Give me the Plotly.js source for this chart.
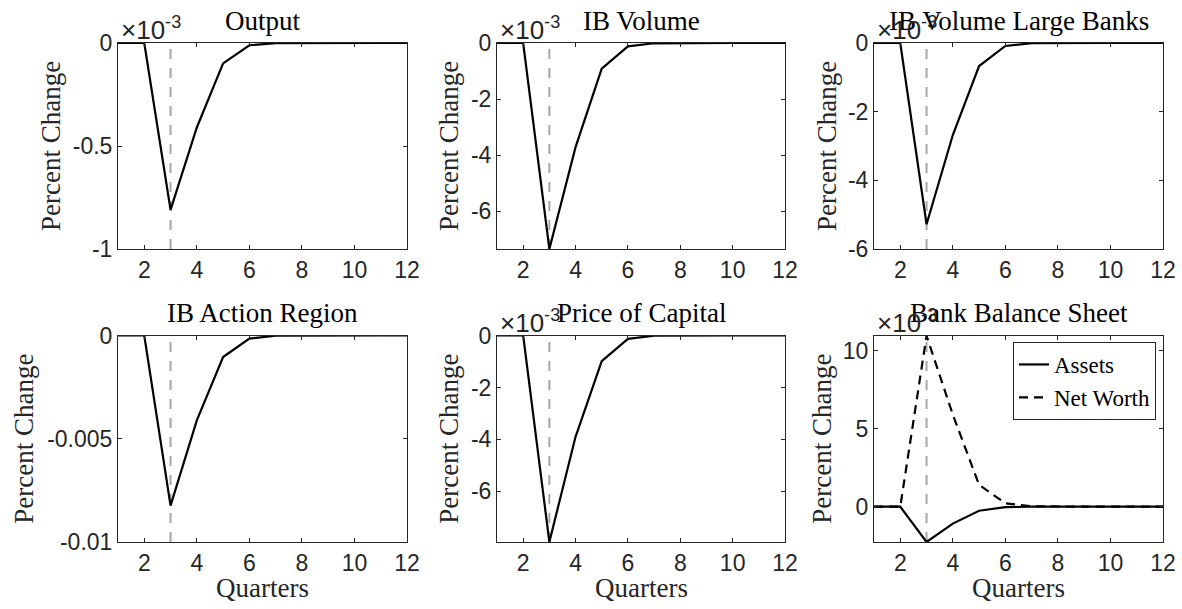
<!DOCTYPE html>
<html>
<head>
<meta charset="utf-8">
<script src="https://cdn.plot.ly/plotly-3.0.1.min.js"></script>
<style>html,body{margin:0;padding:0;background:#fff;}#chart{width:1182px;height:609px;}</style>
</head>
<body>
<div id="chart"></div>
<script>
// ---- data ----
const quarters = [1, 2, 3, 4, 5, 6, 7, 8, 9, 10, 11, 12];
const shockQuarter = 3;
const outputIRF    = [0, 0, -0.00081, -0.00041, -0.000099, -0.000011, -0.000001, 0, 0, 0, 0, 0];
const ibVolume     = [0, 0, -0.00734, -0.00371, -0.00091, -0.00012, -0.00001, 0, 0, 0, 0, 0];
const ibVolumeLarge= [0, 0, -0.00528, -0.00268, -0.00067, -0.000087, -0.000008, 0, 0, 0, 0, 0];
const actionRegion = [0, 0, -0.00824, -0.00411, -0.00104, -0.00015, -0.00001, 0, 0, 0, 0, 0];
const priceCapital = [0, 0, -0.00795, -0.0039, -0.00099, -0.00013, -0.00001, 0, 0, 0, 0, 0];
const bankAssets   = [0, 0, -0.00226, -0.00108, -0.00026, -0.00003, 0, 0, 0, 0, 0, 0];
const bankNetWorth = [0, 0, 0.01095, 0.0059, 0.0014, 0.00022, 0.00003, 0, 0, 0, 0, 0];

const panelTitles = ["Output", "IB Volume", "IB Volume Large Banks", "IB Action Region", "Price of Capital", "Bank Balance Sheet"];
const xTickVals = [2, 4, 6, 8, 10, 12];
const yTickLabels = [
  ["-1", "-0.5", "0"],
  ["-6", "-4", "-2", "0"],
  ["-6", "-4", "-2", "0"],
  ["-0.01", "-0.005", "0"],
  ["-6", "-4", "-2", "0"],
  ["0", "5", "10"]
];
const yScale = [1e-3, 1e-3, 1e-3, 1, 1e-3, 1e-3];
const legendNames = ["Assets", "Net Worth"];
const yLabel = "Percent Change";
const xLabel = "Quarters";

// ---- layout geometry ----
const W = 1182, H = 609;
const px = v => v / W;
const py = v => 1 - v / H;
const cols = [[118, 407], [497, 785], [874, 1163]];
const rows = [[43, 249], [335.5, 542]];
const yRanges = [[-0.001, 0], [-0.00734, 0], [-0.006, 0], [-0.01, 0], [-0.00795, 0], [-0.00226, 0.01097]];
const yLabelX = [51, 449, 827, 24, 449, 822];

const serif = "Liberation Serif, Times New Roman, serif";
const sans = "Liberation Sans, Arial, Helvetica, sans-serif";
const axColor = "#262626";

const series = [
  [outputIRF], [ibVolume], [ibVolumeLarge], [actionRegion], [priceCapital], [bankAssets, bankNetWorth]
];

const traces = [];
const layout = {
  width: W, height: H,
  margin: {l: 0, r: 0, t: 0, b: 0},
  paper_bgcolor: "#fff", plot_bgcolor: "#fff",
  showlegend: true,
  legend: {
    x: px(1156), y: py(342), xanchor: "right", yanchor: "top",
    bgcolor: "#fff", bordercolor: axColor, borderwidth: 1,
    font: {family: serif, size: 23, color: "#000"},
    tracegroupgap: 0, itemwidth: 30
  },
  annotations: [], shapes: []
};

for (let i = 0; i < 6; i++) {
  const r = Math.floor(i / 3), c = i % 3;
  const sfx = i === 0 ? "" : String(i + 1);
  const xa = "xaxis" + sfx, ya = "yaxis" + sfx;
  const xr = "x" + sfx, yr = "y" + sfx;
  const labels = yTickLabels[i];
  layout[xa] = {
    domain: [px(cols[c][0]), px(cols[c][1])],
    anchor: yr, range: [1, 12],
    tickvals: xTickVals, ticks: "inside", ticklen: 4, tickwidth: 1, tickcolor: axColor,
    showline: true, linecolor: axColor, linewidth: 1, mirror: "ticks",
    showgrid: false, zeroline: false,
    tickfont: {family: sans, size: 23, color: axColor}
  };
  layout[ya] = {
    domain: [py(rows[r][1]), py(rows[r][0])],
    anchor: xr, range: yRanges[i],
    tickvals: labels.map(t => parseFloat(t) * yScale[i]), ticktext: labels,
    ticks: "inside", ticklen: 4, tickwidth: 1, tickcolor: axColor,
    showline: true, linecolor: axColor, linewidth: 1, mirror: "ticks",
    showgrid: false, zeroline: false,
    tickfont: {family: sans, size: 23, color: axColor}
  };
  // shock marker
  layout.shapes.push({
    type: "line", xref: xr, yref: yr + " domain", x0: shockQuarter, x1: shockQuarter, y0: 0, y1: 1,
    line: {color: "#a6a6a6", width: 2, dash: "10px,9px"}, layer: "below"
  });
  series[i].forEach((s, k) => {
    traces.push({
      x: quarters, y: s, xaxis: xr, yaxis: yr, type: "scatter", mode: "lines",
      line: {color: "#000", width: 2.2, dash: k === 1 ? "9px,6px" : "solid"},
      name: i === 5 ? legendNames[k] : "",
      showlegend: i === 5, cliponaxis: false, hoverinfo: "skip"
    });
  });
  // title
  layout.annotations.push({
    text: panelTitles[i], xref: "paper", yref: "paper",
    x: px((cols[c][0] + cols[c][1]) / 2), y: py(r === 0 ? 21 : 313),
    xanchor: "center", yanchor: "middle", showarrow: false,
    font: {family: serif, size: 27, color: "#000"}
  });
  // y label
  layout.annotations.push({
    text: yLabel, xref: "paper", yref: "paper", textangle: -90,
    x: px(yLabelX[i]), y: py((rows[r][0] + rows[r][1]) / 2),
    xanchor: "center", yanchor: "middle", showarrow: false,
    font: {family: serif, size: 27, color: axColor}
  });
  // x label on bottom row
  if (r === 1) {
    layout.annotations.push({
      text: xLabel, xref: "paper", yref: "paper",
      x: px((cols[c][0] + cols[c][1]) / 2), y: py(588),
      xanchor: "center", yanchor: "middle", showarrow: false,
      font: {family: serif, size: 27, color: axColor}
    });
  }
  // exponent
  if (yScale[i] !== 1) {
    layout.annotations.push({
      text: "×10<sup>-3</sup>", xref: "paper", yref: "paper",
      x: px(cols[c][0] + 1), y: py(rows[r][0] + 4),
      xanchor: "left", yanchor: "bottom", showarrow: false,
      font: {family: sans, size: 26, color: axColor}
    });
  }
}

Plotly.newPlot("chart", traces, layout, {staticPlot: true, displayModeBar: false});
</script>
</body>
</html>
